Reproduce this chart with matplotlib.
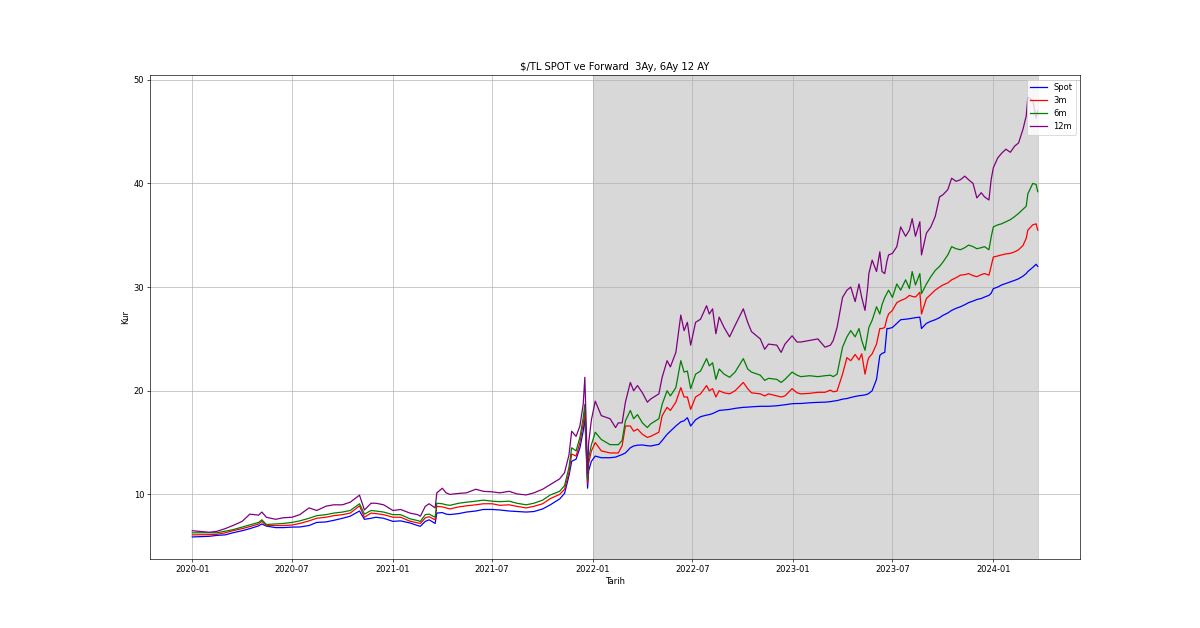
import numpy as np
import pandas as pd
import matplotlib
matplotlib.use("Agg")
import matplotlib.pyplot as plt

# tarih ekseni (yaklasik okunan noktalar)
tarih = [
    "2020-01-01", "2020-02-01", "2020-02-15", "2020-03-01", "2020-03-15", "2020-04-01",
    "2020-04-15", "2020-05-01", "2020-05-07", "2020-05-15", "2020-06-01", "2020-06-15",
    "2020-07-01", "2020-07-15", "2020-08-01", "2020-08-15", "2020-09-01", "2020-09-15",
    "2020-10-01", "2020-10-15", "2020-11-01", "2020-11-10", "2020-11-22", "2020-12-01",
    "2020-12-15", "2021-01-01",
    "2021-01-15", "2021-02-01", "2021-02-15", "2021-02-20", "2021-03-01", "2021-03-08",
    "2021-03-19", "2021-03-22", "2021-04-01", "2021-04-08", "2021-04-15", "2021-05-01",
    "2021-05-15", "2021-06-01", "2021-06-15", "2021-07-01", "2021-07-15", "2021-08-01",
    "2021-08-15", "2021-09-01", "2021-09-15", "2021-10-01", "2021-10-15", "2021-11-01",
    "2021-11-10", "2021-11-18", "2021-11-23", "2021-12-01", "2021-12-08", "2021-12-14",
    "2021-12-17", "2021-12-22", "2021-12-24", "2021-12-29",
    "2022-01-05", "2022-01-16", "2022-02-01", "2022-02-11", "2022-02-16", "2022-02-23",
    "2022-03-01", "2022-03-10", "2022-03-16", "2022-03-23", "2022-04-01", "2022-04-10",
    "2022-04-16", "2022-05-01", "2022-05-07", "2022-05-16", "2022-05-22", "2022-06-01",
    "2022-06-10", "2022-06-16", "2022-06-22", "2022-06-28", "2022-07-07", "2022-07-16",
    "2022-07-27", "2022-08-01", "2022-08-07", "2022-08-13", "2022-08-19", "2022-08-28",
    "2022-09-07", "2022-09-17", "2022-10-02", "2022-10-10", "2022-10-17", "2022-11-02",
    "2022-11-10", "2022-11-17", "2022-12-02", "2022-12-10", "2022-12-17", "2022-12-30",
    "2023-01-08", "2023-01-15", "2023-01-31", "2023-02-15", "2023-02-28", "2023-03-10",
    "2023-03-15", "2023-03-22", "2023-04-01", "2023-04-09", "2023-04-16", "2023-04-24",
    "2023-05-01", "2023-05-06", "2023-05-12", "2023-05-17", "2023-05-19", "2023-05-25",
    "2023-06-02", "2023-06-08", "2023-06-12", "2023-06-17", "2023-06-21", "2023-06-24",
    "2023-07-01", "2023-07-09", "2023-07-16", "2023-07-25", "2023-08-01", "2023-08-06",
    "2023-08-12", "2023-08-20", "2023-08-23", "2023-09-01", "2023-09-09", "2023-09-17",
    "2023-09-25", "2023-10-01", "2023-10-10", "2023-10-17", "2023-10-25", "2023-11-02",
    "2023-11-10", "2023-11-17", "2023-11-25", "2023-12-02", "2023-12-10", "2023-12-16",
    "2023-12-24", "2023-12-28", "2024-01-01", "2024-01-09", "2024-01-16", "2024-01-24",
    "2024-02-01", "2024-02-09", "2024-02-16", "2024-02-24", "2024-03-01", "2024-03-04",
    "2024-03-13", "2024-03-19", "2024-03-22",
]

spot = [
    5.90, 5.96, 6.05, 6.10, 6.30, 6.50, 6.70, 6.97, 7.15, 6.95, 6.80, 6.80,
    6.85, 6.86, 7.00, 7.30, 7.35, 7.50, 7.70, 7.90, 8.40, 7.60, 7.70, 7.80,
    7.70, 7.40,
    7.45, 7.25, 7.00, 6.93, 7.40, 7.55, 7.20, 8.20, 8.25, 8.10, 8.06, 8.15,
    8.30, 8.40, 8.55, 8.55, 8.50, 8.40, 8.35, 8.30, 8.35, 8.60, 9.00, 9.56,
    10.10, 11.80, 13.20, 13.40, 14.50, 16.10, 17.50, 10.60, 12.30, 13.20,
    13.70, 13.54, 13.54, 13.60, 13.70, 13.85, 14.00, 14.50, 14.67, 14.75, 14.77, 14.70,
    14.67, 14.83, 15.20, 15.80, 16.10, 16.60, 17.00, 17.10, 17.40, 16.60, 17.20, 17.50,
    17.65, 17.70, 17.80, 17.95, 18.10, 18.15, 18.20, 18.30, 18.40, 18.42, 18.45, 18.50,
    18.50, 18.50, 18.55, 18.60, 18.65, 18.75,
    18.77, 18.77, 18.84, 18.88, 18.90, 18.95, 19.00, 19.05, 19.19, 19.25, 19.35, 19.45,
    19.52, 19.55, 19.60, 19.68, 19.75, 20.00, 21.10, 23.40, 23.60, 23.70, 26.00, 26.00,
    26.10, 26.50, 26.85, 26.90, 26.95, 27.00, 27.05, 27.10, 26.00, 26.50, 26.70, 26.85,
    27.05, 27.27, 27.50, 27.75, 27.95, 28.10, 28.30, 28.50, 28.65, 28.80, 28.90, 29.04,
    29.20, 29.40, 29.85, 30.00, 30.20, 30.35, 30.50, 30.65, 30.80, 31.05, 31.30, 31.50,
    31.90, 32.20, 32.00,
]

fwd_3m = [
    6.10, 6.12, 6.15, 6.30, 6.50, 6.70, 6.90, 7.15, 7.40, 7.00, 7.00, 7.00,
    7.05, 7.20, 7.45, 7.70, 7.80, 7.95, 8.05, 8.20, 8.90, 7.80, 8.20, 8.15,
    8.05, 7.80,
    7.80, 7.42, 7.25, 7.20, 7.75, 7.85, 7.55, 8.85, 8.80, 8.70, 8.60, 8.80,
    8.90, 9.00, 9.10, 9.10, 8.95, 9.00, 8.85, 8.70, 8.85, 9.10, 9.60, 10.00,
    10.50, 12.10, 13.90, 13.70, 15.00, 16.80, 18.00, 11.10, 13.00, 14.20,
    15.00, 14.20, 14.00, 14.00, 14.00, 14.70, 16.60, 16.60, 16.10, 16.30, 15.80, 15.50,
    15.60, 16.00, 17.60, 18.40, 18.10, 18.90, 20.30, 19.40, 19.40, 18.20, 19.40, 19.70,
    20.50, 20.00, 20.20, 19.40, 20.00, 19.80, 19.70, 20.00, 20.80, 20.20, 19.80, 19.70,
    19.50, 19.70, 19.50, 19.40, 19.50, 20.20,
    19.80, 19.70, 19.75, 19.85, 19.85, 20.06, 19.90, 19.97, 21.60, 23.20, 22.90, 23.50,
    22.97, 23.56, 21.60, 22.90, 23.20, 23.56, 24.50, 26.00, 26.00, 26.10, 27.00, 27.40,
    27.75, 28.50, 28.70, 28.90, 29.20, 29.10, 29.04, 29.50, 27.40, 28.90, 29.30, 29.70,
    30.00, 30.20, 30.40, 30.70, 30.90, 31.15, 31.20, 31.30, 31.10, 31.00, 31.20, 31.30,
    31.15, 32.00, 32.90, 33.00, 33.10, 33.20, 33.25, 33.40, 33.60, 34.00, 34.70, 35.50,
    36.00, 36.10, 35.50,
]

fwd_6m = [
    6.30, 6.30, 6.30, 6.45, 6.60, 6.85, 7.05, 7.30, 7.55, 7.10, 7.15, 7.20,
    7.30, 7.45, 7.70, 7.95, 8.05, 8.20, 8.30, 8.45, 9.10, 8.10, 8.45, 8.40,
    8.30, 8.05,
    8.05, 7.65, 7.48, 7.40, 8.05, 8.10, 7.80, 9.15, 9.10, 9.00, 8.95, 9.15,
    9.25, 9.35, 9.45, 9.35, 9.30, 9.35, 9.15, 9.00, 9.15, 9.45, 9.95, 10.30,
    10.85, 12.60, 14.50, 14.20, 15.50, 17.40, 18.70, 11.50, 13.50, 14.80,
    16.00, 15.30, 14.80, 14.80, 14.80, 15.20, 17.10, 18.10, 17.30, 17.70, 16.90, 16.45,
    16.80, 17.30, 18.70, 20.00, 19.50, 20.30, 22.90, 21.80, 21.90, 20.20, 21.60, 21.90,
    23.10, 22.40, 22.70, 21.10, 22.10, 21.60, 21.30, 21.80, 23.10, 22.10, 21.80, 21.50,
    21.00, 21.20, 21.10, 20.80, 21.10, 21.80,
    21.50, 21.36, 21.45, 21.36, 21.45, 21.50, 21.36, 21.60, 24.20, 25.20, 25.80, 25.20,
    26.00, 24.85, 23.90, 25.50, 26.10, 26.80, 28.10, 27.40, 28.30, 29.00, 29.40, 29.70,
    29.00, 30.30, 29.70, 30.70, 29.85, 31.50, 30.20, 31.30, 29.37, 30.30, 31.00, 31.60,
    32.00, 32.40, 33.10, 33.90, 33.70, 33.60, 33.80, 34.05, 33.90, 33.70, 33.80, 33.90,
    33.60, 34.80, 35.80, 36.00, 36.10, 36.30, 36.50, 36.80, 37.10, 37.50, 37.80, 39.00,
    40.00, 39.90, 39.20,
]

fwd_12m = [
    6.50, 6.35, 6.44, 6.70, 7.00, 7.40, 8.10, 8.00, 8.30, 7.80, 7.60, 7.75,
    7.80, 8.05, 8.70, 8.45, 8.87, 9.00, 9.00, 9.25, 9.93, 8.50, 9.15, 9.15,
    9.00, 8.45,
    8.55, 8.20, 8.05, 7.90, 8.85, 9.10, 8.70, 10.15, 10.60, 10.15, 10.00, 10.10,
    10.15, 10.50, 10.30, 10.25, 10.15, 10.30, 10.05, 9.95, 10.15, 10.50, 10.95, 11.50,
    12.10, 13.80, 16.10, 15.60, 16.60, 18.70, 21.30, 12.00, 15.00, 17.20,
    19.00, 17.60, 17.30, 16.45, 16.90, 16.90, 18.90, 20.80, 20.00, 20.50, 19.80, 18.90,
    19.20, 19.70, 21.30, 22.90, 22.30, 23.70, 27.30, 25.80, 26.60, 24.40, 26.60, 26.90,
    28.20, 27.40, 27.90, 25.50, 27.10, 26.10, 25.20, 26.30, 27.90, 26.60, 25.70, 25.00,
    24.00, 24.50, 24.40, 23.70, 24.50, 25.30,
    24.70, 24.70, 24.85, 25.00, 24.20, 24.40, 24.85, 26.10, 29.00, 29.70, 30.00, 28.60,
    30.30, 29.00, 27.75, 30.00, 31.30, 32.60, 31.50, 33.40, 31.50, 31.30, 32.50, 33.10,
    33.25, 33.90, 35.80, 34.90, 35.50, 36.60, 34.90, 36.30, 33.10, 35.20, 35.80, 36.80,
    38.70, 38.90, 39.40, 40.50, 40.20, 40.35, 40.70, 40.35, 40.00, 38.60, 39.10, 38.70,
    38.40, 40.35, 41.50, 42.45, 42.90, 43.30, 43.00, 43.60, 43.90, 45.20, 46.50, 48.30,
    48.00, 46.30, 47.00,
]

df = pd.DataFrame({"Spot": spot, "3m": fwd_3m, "6m": fwd_6m, "12m": fwd_12m},
                  index=pd.to_datetime(tarih))

fig, ax = plt.subplots(figsize=(20, 10.4667), dpi=60)

ax.plot(df.index, df["Spot"], color="blue", label="Spot")
ax.plot(df.index, df["3m"], color="red", label="3m")
ax.plot(df.index, df["6m"], color="green", label="6m")
ax.plot(df.index, df["12m"], color="purple", label="12m")

# 2022 sonrasi golgeli bolge
ax.axvspan(pd.Timestamp("2022-01-01"), df.index[-1], color="grey", alpha=0.3)

ax.set_title("$/TL SPOT ve Forward  3Ay, 6Ay 12 AY")
ax.set_xlabel("Tarih")
ax.set_ylabel("Kur")
ax.legend(loc="upper right")
ax.grid(True)

fig.savefig("out.png", dpi=60)
